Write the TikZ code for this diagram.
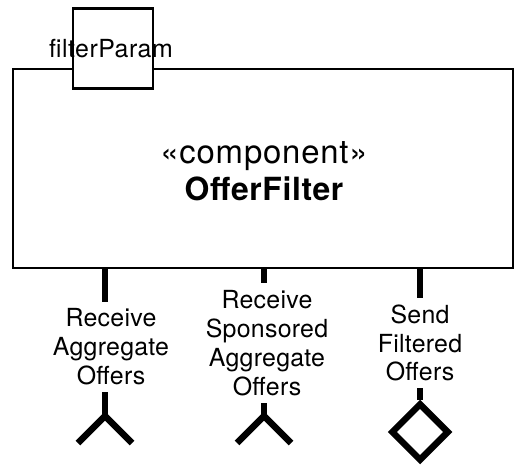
\documentclass[tikz,border=0pt]{standalone}
\usepackage{fontspec}
\setmainfont{TeX Gyre Heros}
\usetikzlibrary{positioning, shapes.geometric}

\tikzset{
  compbox/.style={draw, line width=2.5bp, minimum width=500bp, minimum height=199bp, inner sep=0pt},
  portbox/.style={draw, fill=white, line width=2.5bp, minimum size=80bp, inner sep=0pt},
  stem/.style={line width=6bp},
  socket/.style={line width=6.5bp},
  portlbl/.style={fill=white, align=center, inner xsep=2bp, inner ysep=7bp, font=\fontsize{25}{29}\selectfont\addfontfeature{LetterSpace=1.1}},
}

\begin{document}
\begin{tikzpicture}[x=1bp, y=-1bp]
\useasboundingbox (0,0) rectangle (526,476);
% component body
\node[compbox] (comp) at (263,168.5) {};
\node[align=center, font=\fontsize{33}{37}\selectfont\addfontfeature{LetterSpace=2.4}] (compname) at (264,171) {«component»\\{\bfseries\fontsize{32}{37}\selectfont\addfontfeature{LetterSpace=2}OfferFilter}};

% parameter port
\node[portbox] (param) at (113,48.5) {};
\node[inner sep=0pt, font=\fontsize{25}{30}\selectfont\addfontfeature{LetterSpace=2}] (paramname) at (111,49) {filterParam};

% required ports
\foreach \px/\lx/\ly/\nm/\txt in {105/111/347/rcvagg/{Receive\\Aggregate\\Offers}, 264/267/343/rcvspons/{Receive\\Sponsored\\Aggregate\\Offers}} {
  \coordinate (\nm) at (\px,416);
  \draw[stem] (comp.south -| \nm) -- (\nm);
  \draw[socket] (\nm) ++(-27,27) -- (\nm) -- ++(27,27);
  \node[portlbl] (\nm-lbl) at (\lx,\ly) {\txt};
}

% provided port
\node[diamond, draw, line width=6.5bp, minimum size=58bp, inner sep=0pt] (sndfilt) at (420,432) {};
\draw[stem] (comp.south -| sndfilt) -- (sndfilt.north);
\node[portlbl] (sndfilt-lbl) at (420,343) {Send\\Filtered\\Offers};
\end{tikzpicture}
\end{document}
